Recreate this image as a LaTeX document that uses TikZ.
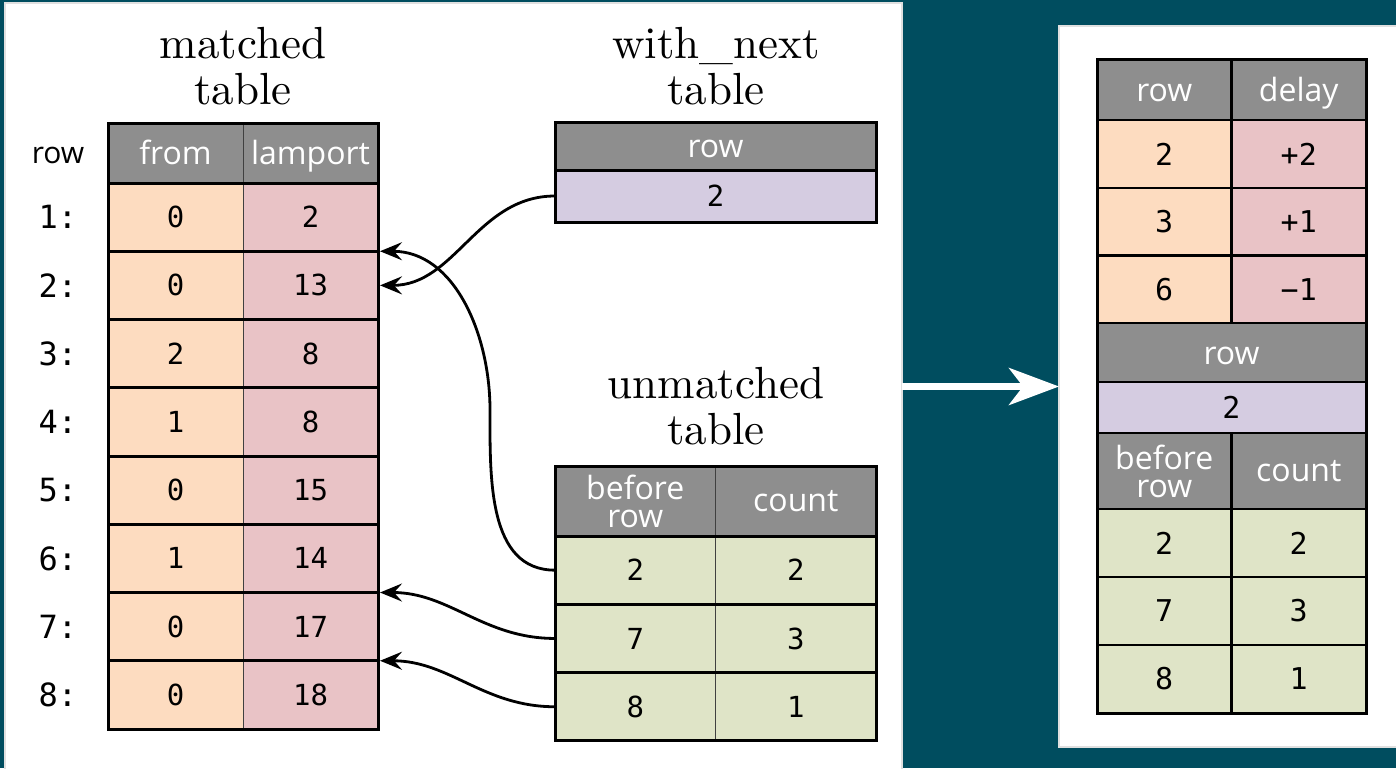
\documentclass[tikz,border=0pt]{standalone}
\usepackage{fontspec}
\usepackage{tikz}
\usetikzlibrary{arrows.meta}
\setmainfont{lmroman10-regular}[Extension=.otf]
\setsansfont{Open Sans}
\setmonofont{DejaVu Sans Mono}
\definecolor{bgteal}{RGB}{0,77,95}
\definecolor{hdrgray}{RGB}{142,142,142}
\definecolor{peach}{RGB}{253,220,192}
\definecolor{pink}{RGB}{233,195,198}
\definecolor{lilac}{RGB}{213,204,225}
\definecolor{sage}{RGB}{223,228,199}

\begin{document}
\begin{tikzpicture}[x=1pt, y=-1pt,
    every node/.style={inner sep=0pt, outer sep=0pt},
    cell/.style={draw=black!75, line width=0.8pt, minimum width=135pt, minimum height=68.25pt,
                 font=\fontsize{29}{30}\selectfont\ttfamily},
    hcell/.style={cell, fill=hdrgray, text=white, align=center,
                 font=\fontsize{32}{28}\selectfont\sffamily},
    oneline/.style={text height=23pt, text depth=0pt},
    rcell/.style={cell, draw=black, line width=2.5pt, minimum width=134.5pt,
                 font=\fontsize{30}{30}\selectfont\ttfamily},
    rhcell/.style={hcell, draw=black, line width=2.5pt, minimum width=134.5pt},
    title/.style={align=center, font=\fontsize{45}{46}\selectfont},
    rowno/.style={font=\fontsize{32}{32}\selectfont\ttfamily},
    rule/.style={line width=3pt},
    frame/.style={draw, line width=3pt},
    link/.style={line width=2.8pt, shorten >=2pt, -{Stealth[length=22pt, width=18pt, inset=8pt]}},
    panel/.style={fill=white, draw=black!12, line width=1.5pt, anchor=north west}]

\clip (0,0) rectangle (1396,768);
\fill[bgteal] (0,0) rectangle (1396,768);
\node[panel, minimum width=897pt, minimum height=790pt] (lpanel) at (5,3) {};
\node[panel, minimum width=345pt, minimum height=721pt] (rpanel) at (1059,26) {};

% matched table
\node[title] (mtitle) at (243,66) {matched\\table};
\node[font=\fontsize{30}{30}\selectfont\sffamily] (rowhead) at (58,155) {row};
\node[hcell, oneline, minimum height=60pt] (mfrom) at (175.5,153) {from};
\node[hcell, oneline, minimum height=60pt] (mlamport) at (310.5,153) {lamport};
\foreach \f/\l [count=\i] in {0/2,0/13,2/8,1/8,0/15,1/14,0/17,0/18} {
  \node[cell, fill=peach] (f\i) at (175.5,{148.875+68.25*\i}) {\f};
  \node[cell, fill=pink] (l\i) at (310.5,{148.875+68.25*\i}) {\l};
  \node[rowno] (n\i) at (58,{148.875+68.25*\i}) {\i:};
}
\foreach \i in {1,...,7} \draw[rule] (f\i.south west) -- (l\i.south east);
\draw[rule] (mfrom.south west) -- (mlamport.south east);
\draw[frame] (mfrom.north west) rectangle (l8.south east);

% with_next table
\node[title] (wtitle) at (716,66) {with\_next\\table};
\node[hcell, oneline, minimum width=321pt, minimum height=48pt] (whead) at (715.5,146) {row};
\node[cell, fill=lilac, minimum width=321pt, minimum height=52pt] (wrow) at (715.5,196) {2};
\draw[rule] (whead.south west) -- (whead.south east);
\draw[frame] (whead.north west) rectangle (wrow.south east);

% unmatched table
\node[title] (utitle) at (716,406) {unmatched\\table};
\node[hcell, minimum width=160.5pt, minimum height=70pt] (ubefore) at (635.25,501) {before\\row};
\node[hcell, minimum width=160.5pt, minimum height=70pt] (ucount) at (795.75,501) {count};
\foreach \b/\c [count=\i] in {2/2,7/3,8/1} {
  \node[cell, fill=sage, minimum width=160.5pt, minimum height=68.3pt] (b\i) at (635.25,{501.85+68.3*\i}) {\b};
  \node[cell, fill=sage, minimum width=160.5pt, minimum height=68.3pt] (c\i) at (795.75,{501.85+68.3*\i}) {\c};
}
\foreach \i in {1,2} \draw[rule] (b\i.south west) -- (c\i.south east);
\draw[rule] (ubefore.south west) -- (ucount.south east);
\draw[frame] (ubefore.north west) rectangle (c3.south east);

% where the rows go
\coordinate (bend) at (490,410);
\draw[link] (wrow.west) to[out=180,in=0] (l2.east);
\draw[link] (b1.west) to[out=180,in=-90] (bend) to[out=90,in=0] (l1.south east);
\draw[link] (b2.west) to[out=180,in=0] (l6.south east);
\draw[link] (b3.west) to[out=180,in=0] (l7.south east);

% result table
\node[rhcell, oneline, minimum height=60pt] (rrow) at (1164.25,90) {row};
\node[rhcell, oneline, minimum height=60pt] (rdelay) at (1298.75,90) {delay};
\foreach \r/\d/\y [count=\i] in {2/+2/154,3/+1/222,6/−1/289.5} {
  \node[rcell, fill=peach, minimum height=67.7pt] (rr\i) at (1164.25,\y) {\r};
  \node[rcell, fill=pink, minimum height=67.7pt] (rd\i) at (1298.75,\y) {\d};
}
\node[rhcell, oneline, minimum width=269pt, minimum height=59pt] (rmid) at (1231.5,352.5) {row};
\node[rcell, fill=lilac, minimum width=269pt, minimum height=51pt] (rnext) at (1231.5,407.5) {2};
\node[rhcell, minimum height=76pt] (rbefore) at (1164.25,471) {before\\row};
\node[rhcell, minimum height=76pt] (rcount) at (1298.75,471) {count};
\foreach \b/\c/\y [count=\i] in {2/2/543,7/3/611,8/1/679} {
  \node[rcell, fill=sage, minimum height=68pt] (rb\i) at (1164.25,\y) {\b};
  \node[rcell, fill=sage, minimum height=68pt] (rc\i) at (1298.75,\y) {\c};
}
\draw[frame] (rrow.north west) rectangle (rc3.south east);

\draw[white, line width=7pt, -{Stealth[length=50pt, width=37pt, inset=14pt]}]
  (lpanel.east |- rpanel.west) -- (rpanel.west);
\end{tikzpicture}
\end{document}
